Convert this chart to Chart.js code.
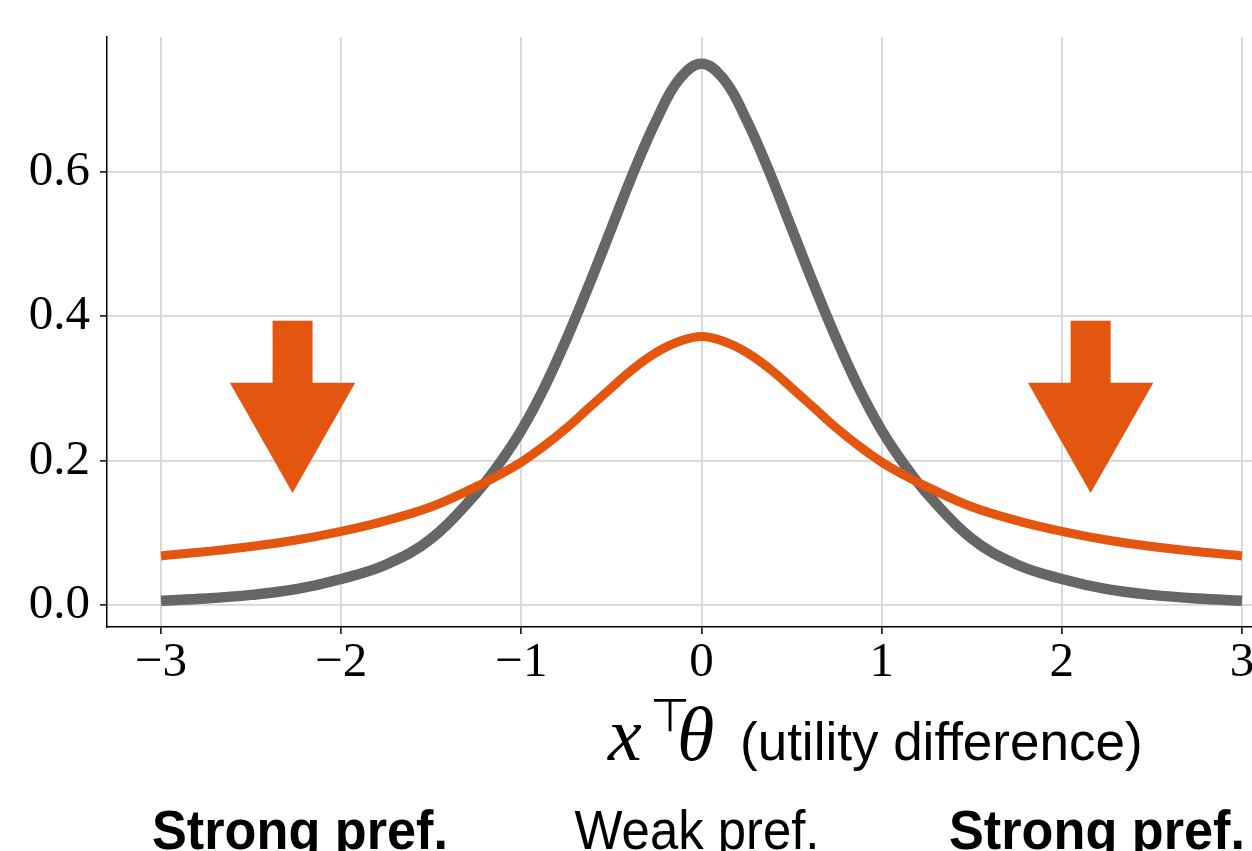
<!DOCTYPE html>
<html><head><meta charset="utf-8">
<script src="https://cdn.jsdelivr.net/npm/chart.js@4/dist/chart.umd.min.js"></script>
<style>html,body{margin:0;padding:0;background:#fff;overflow:hidden;width:1252px;height:851px}canvas{display:block}</style>
</head><body>
<canvas id="c" width="1300" height="851"></canvas>
<script>
// ---- data ----
const xValues      = [-3, -2.75, -2.5, -2.25, -2, -1.75, -1.5, -1.25, -1.125, -1, -0.875, -0.75, -0.625, -0.5, -0.375, -0.25, -0.125, 0,
                       0.125, 0.25, 0.375, 0.5, 0.625, 0.75, 0.875, 1, 1.125, 1.25, 1.5, 1.75, 2, 2.25, 2.5, 2.75, 3];
const grayValues   = [0.006, 0.009, 0.014, 0.022, 0.036, 0.056, 0.092, 0.155, 0.195, 0.242, 0.300, 0.368, 0.443, 0.522, 0.601, 0.672, 0.728, 0.750,
                       0.728, 0.672, 0.601, 0.522, 0.443, 0.368, 0.300, 0.242, 0.195, 0.155, 0.092, 0.056, 0.036, 0.022, 0.014, 0.009, 0.006];
const orangeValues = [0.068, 0.074, 0.081, 0.090, 0.102, 0.117, 0.136, 0.164, 0.180, 0.198, 0.220, 0.245, 0.273, 0.301, 0.328, 0.350, 0.365, 0.372,
                       0.365, 0.350, 0.328, 0.301, 0.273, 0.245, 0.220, 0.198, 0.180, 0.164, 0.136, 0.117, 0.102, 0.090, 0.081, 0.074, 0.068];
const xTicks = [-3, -2, -1, 0, 1, 2, 3];
const yTicks = [0, 0.2, 0.4, 0.6];
const arrowCenters = [-2.27, 2.16];
const bottomLabels = ['Strong pref.', 'Weak pref.', 'Strong pref.'];
const axisTitleText = '(utility difference)';

const ORANGE = '#E4560F';
const GRAY = '#666666';
const GRID = '#d6d6d6';

const arrowPlugin = {
  id: 'arrows',
  afterDatasetsDraw(chart) {
    const {ctx, scales: {x, y}} = chart;
    const top = 0.394, neck = 0.308, tip = 0.155, shaftHalf = 0.111, headHalf = 0.348;
    ctx.save();
    ctx.fillStyle = ORANGE;
    arrowCenters.forEach(c => {
      ctx.beginPath();
      ctx.moveTo(x.getPixelForValue(c - shaftHalf), y.getPixelForValue(top));
      ctx.lineTo(x.getPixelForValue(c + shaftHalf), y.getPixelForValue(top));
      ctx.lineTo(x.getPixelForValue(c + shaftHalf), y.getPixelForValue(neck));
      ctx.lineTo(x.getPixelForValue(c + headHalf), y.getPixelForValue(neck));
      ctx.lineTo(x.getPixelForValue(c), y.getPixelForValue(tip));
      ctx.lineTo(x.getPixelForValue(c - headHalf), y.getPixelForValue(neck));
      ctx.lineTo(x.getPixelForValue(c - shaftHalf), y.getPixelForValue(neck));
      ctx.closePath();
      ctx.fill();
    });
    ctx.restore();
  },
  afterDraw(chart) {
    const ctx = chart.ctx;
    ctx.save();
    ctx.fillStyle = '#000';
    ctx.textBaseline = 'alphabetic';
    // axis title: x^T theta (utility difference)
    ctx.textAlign = 'left';
    ctx.font = 'italic 76px "Liberation Serif"';
    ctx.fillText('x', 608, 760);
    ctx.font = '46px "DejaVu Sans"';
    ctx.fillText('\u22A4', 650, 731);
    ctx.font = 'italic 76px "Liberation Serif"';
    ctx.fillText('\u03B8', 677, 760);
    ctx.font = '53px "Liberation Sans"';
    ctx.fillText(axisTitleText, 740, 760, 403);
    // bottom labels
    ctx.textAlign = 'center';
    ctx.font = 'bold 56px "Liberation Sans"';
    ctx.fillText(bottomLabels[0], 300, 849, 296);
    ctx.font = '56px "Liberation Sans"';
    ctx.fillText(bottomLabels[1], 697, 849, 245);
    ctx.font = 'bold 56px "Liberation Sans"';
    ctx.fillText(bottomLabels[2], 1097, 849, 296);
    ctx.restore();
  }
};

const fmtX = v => v < 0 ? '\u2212' + Math.abs(v) : String(v);
const fmtY = v => v.toFixed(1);

new Chart(document.getElementById('c').getContext('2d'), {
  type: 'line',
  data: {
    datasets: [
      {data: xValues.map((x, i) => ({x, y: orangeValues[i]})), borderColor: ORANGE, borderWidth: 9,
       pointRadius: 0, tension: 0.4, borderCapStyle: 'butt', borderJoinStyle: 'round', order: 0, fill: false},
      {data: xValues.map((x, i) => ({x, y: grayValues[i]})), borderColor: GRAY, borderWidth: 10.5,
       pointRadius: 0, tension: 0.4, borderCapStyle: 'butt', borderJoinStyle: 'round', order: 1, fill: false}
    ]
  },
  options: {
    responsive: false, animation: false, devicePixelRatio: 1, events: [],
    layout: {padding: {left: 0, top: 37, right: 4, bottom: 0}},
    plugins: {legend: {display: false}, tooltip: {enabled: false}},
    scales: {
      x: {
        type: 'linear', min: -3.3, max: 3.3,
        afterBuildTicks: s => { s.ticks = xTicks.map(v => ({value: v})); },
        afterFit: s => { s.height = 224; },
        grid: {color: GRID, lineWidth: 1.8, tickColor: '#000', tickLength: 7, tickWidth: 1.5},
        border: {color: '#000', width: 1.5},
        ticks: {font: {family: 'Liberation Serif', size: 49, lineHeight: 1}, color: '#000', padding: 5,
                autoSkip: false, maxRotation: 0, callback: v => fmtX(v)}
      },
      y: {
        type: 'linear', min: -0.0305, max: 0.787,
        afterBuildTicks: s => { s.ticks = yTicks.map(v => ({value: v})); },
        afterFit: s => { s.width = 107; },
        grid: {color: GRID, lineWidth: 1.8, tickColor: '#000', tickLength: 7, tickWidth: 1.5},
        border: {color: '#000', width: 1.5},
        ticks: {font: {family: 'Liberation Serif', size: 49, lineHeight: 1}, color: '#000', padding: 10,
                autoSkip: false, callback: v => fmtY(v)}
      }
    }
  },
  plugins: [arrowPlugin]
});
</script>
</body></html>
